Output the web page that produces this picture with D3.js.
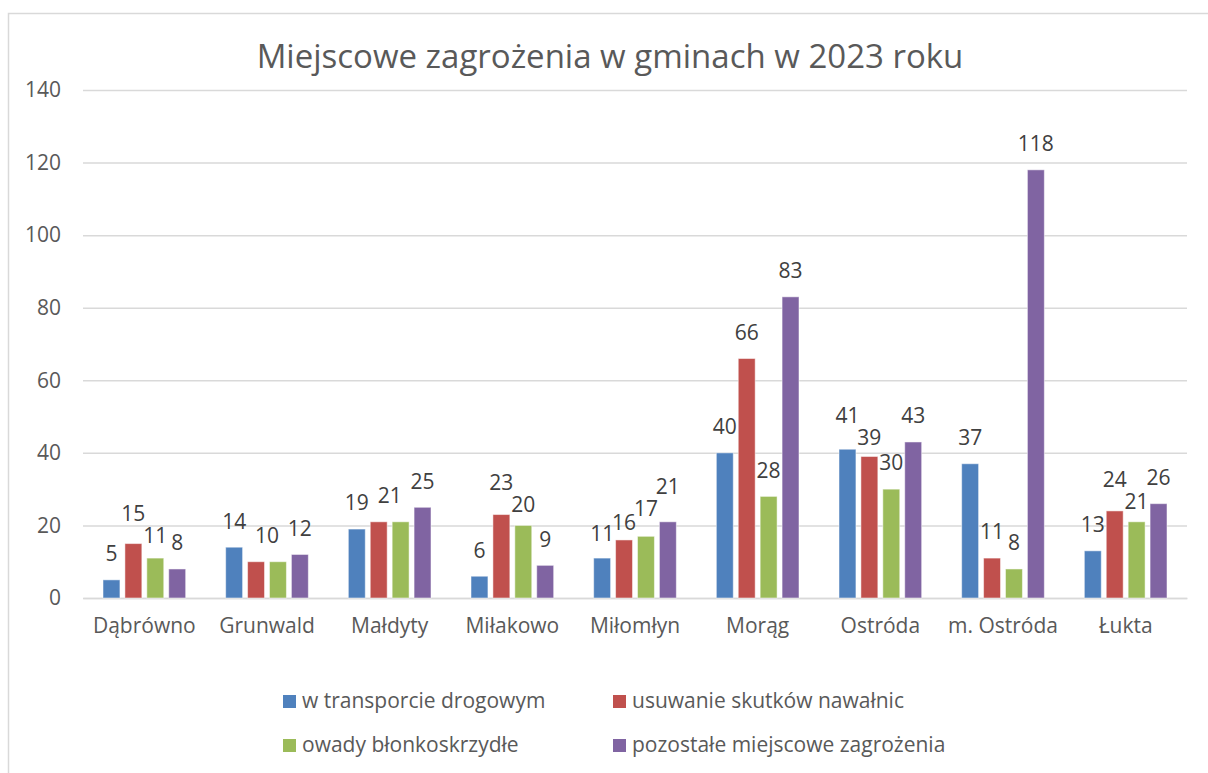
<!DOCTYPE html>
<html>
<head>
<meta charset="utf-8">
<script src="https://cdn.jsdelivr.net/npm/d3@7"></script>
<style>
  body { margin: 0; background: #fff; }
  svg { font-family: "Open Sans", "Liberation Sans", sans-serif; }
</style>
</head>
<body>
<div id="vis"></div>
<script>
// chart values
const CATEGORIES = ["Dąbrówno", "Grunwald", "Małdyty", "Miłakowo", "Miłomłyn",
                    "Morąg", "Ostróda", "m. Ostróda", "Łukta"];
const SERIES = ["w transporcie drogowym", "usuwanie skutków nawałnic",
                "owady błonkoskrzydłe", "pozostałe miejscowe zagrożenia"];
const TRANSPORT = [5, 14, 19, 6, 11, 40, 41, 37, 13];
const NAWALNICE = [15, 10, 21, 23, 16, 66, 39, 11, 24];
const OWADY = [11, 10, 21, 20, 17, 28, 30, 8, 21];
const POZOSTALE = [8, 12, 25, 9, 21, 83, 43, 118, 26];
const Y_TICKS = [0, 20, 40, 60, 80, 100, 120, 140];
const COLORS = ["#4F81BD", "#C0504D", "#9BBB59", "#8064A2"];

const FRAME_WIDTH = 1208;
const FRAME_HEIGHT = 773;
const PLOT = {left: 83, right: 1187, top: 90, bottom: 598};
const FONT_SIZE = 21;
const LABEL_H = 22;

const VALUES = [TRANSPORT, NAWALNICE, OWADY, POZOSTALE];

const FRAME = d3.select("#vis")
                .append("svg")
                    .attr("width", FRAME_WIDTH)
                    .attr("height", FRAME_HEIGHT);

// outer border of the chart area
FRAME.append("rect")
    .attr("x", 8.5)
    .attr("y", 13.5)
    .attr("width", FRAME_WIDTH)
    .attr("height", FRAME_HEIGHT)
    .attr("fill", "none")
    .attr("stroke", "#d9d9d9")
    .attr("stroke-width", 1.5);

// title
FRAME.append("text")
    .attr("x", 610)
    .attr("y", 68)
    .attr("text-anchor", "middle")
    .attr("font-size", "33px")
    .attr("fill", "#595959")
    .text("Miejscowe zagrożenia w gminach w 2023 roku");

// scales
const X_SCALE = d3.scaleBand()
                    .domain(CATEGORIES)
                    .range([PLOT.left, PLOT.right]);

const X_INNER = d3.scaleBand()
                    .domain(d3.range(SERIES.length))
                    .range([20, X_SCALE.bandwidth() - 20])
                    .paddingInner(0.227);

const Y_SCALE = d3.scaleLinear()
                    .domain([0, 140])
                    .range([PLOT.bottom, PLOT.top]);

// gridlines + y labels
const yAxis = FRAME.append("g")
    .attr("transform", "translate(" + PLOT.left + ",0)")
    .call(d3.axisLeft(Y_SCALE)
            .tickValues(Y_TICKS)
            .tickSize(-(PLOT.right - PLOT.left))
            .tickPadding(22));
yAxis.select(".domain").remove();
yAxis.selectAll("line").attr("stroke", "#d9d9d9").attr("stroke-width", 1.5);
yAxis.selectAll("text")
    .attr("font-size", FONT_SIZE + "px")
    .attr("fill", "#595959")
    .attr("font-family", "'Open Sans', sans-serif");

// x labels
const xAxis = FRAME.append("g")
    .attr("transform", "translate(0," + PLOT.bottom + ")")
    .call(d3.axisBottom(X_SCALE).tickSize(0).tickPadding(20));
xAxis.select(".domain").attr("stroke", "#d9d9d9").attr("stroke-width", 1.5);
xAxis.selectAll("text")
    .attr("font-size", FONT_SIZE + "px")
    .attr("fill", "#595959")
    .attr("font-family", "'Open Sans', sans-serif");

// bars
const points = [];
CATEGORIES.forEach((c, i) => {
    VALUES.forEach((vals, s) => {
        points.push({cat: c, s: s, v: vals[i]});
    });
});

FRAME.selectAll(".bar")
    .data(points)
    .enter()
    .append("rect")
        .attr("class", "bar")
        .attr("x", (d) => { return X_SCALE(d.cat) + X_INNER(d.s); })
        .attr("y", (d) => { return Y_SCALE(d.v); })
        .attr("width", X_INNER.bandwidth())
        .attr("height", (d) => { return PLOT.bottom - Y_SCALE(d.v); })
        .attr("fill", (d) => { return COLORS[d.s]; })
        .attr("stroke", "#ffffff")
        .attr("stroke-opacity", 0.5)
        .attr("stroke-width", 1);

// data labels: natural spot above the bar, equal neighbours share one label,
// overlapping neighbours are pushed apart vertically
const labels = [];
CATEGORIES.forEach((c, i) => {
    const group = [];
    VALUES.forEach((vals, s) => {
        const cx = X_SCALE(c) + X_INNER(s) + X_INNER.bandwidth() / 2;
        const cy = Y_SCALE(vals[i]) - 26;
        const prev = group[group.length - 1];
        if (prev && prev.v === vals[i] && prev.n === 1) {
            prev.x = (prev.x + cx) / 2;
            prev.n = 2;
        } else {
            group.push({v: vals[i], x: cx, y: cy, n: 1,
                        w: String(vals[i]).length * 12.5});
        }
    });
    for (let k = 1; k < group.length; k++) {
        const a = group[k - 1], b = group[k];
        const hOver = (a.w + b.w) / 2 + 2 - Math.abs(b.x - a.x);
        const dy = Math.abs(b.y - a.y);
        if (hOver > 0 && dy < LABEL_H) {
            const shift = (LABEL_H - dy) / 2;
            const upper = a.y <= b.y ? a : b;
            const lower = upper === a ? b : a;
            upper.y -= shift;
            lower.y += shift;
        }
    }
    group.forEach((g) => { labels.push(g); });
});

FRAME.selectAll(".lbl")
    .data(labels)
    .enter()
    .append("text")
        .attr("class", "lbl")
        .attr("x", (d) => { return d.x; })
        .attr("y", (d) => { return d.y; })
        .attr("dy", "0.35em")
        .attr("text-anchor", "middle")
        .attr("font-size", FONT_SIZE + "px")
        .attr("fill", "#404040")
        .text((d) => { return d.v; });

// legend
const LEGEND_POS = [[283, 701], [613, 701], [283, 745], [613, 745]];
const legend = FRAME.selectAll(".leg")
    .data(SERIES)
    .enter()
    .append("g")
        .attr("class", "leg")
        .attr("transform", (d, i) => {
            return "translate(" + LEGEND_POS[i][0] + "," + LEGEND_POS[i][1] + ")";
        });

legend.append("rect")
    .attr("x", 0)
    .attr("y", -6)
    .attr("width", 13)
    .attr("height", 13)
    .attr("fill", (d, i) => { return COLORS[i]; });

legend.append("text")
    .attr("x", 19)
    .attr("y", 0)
    .attr("dy", "0.35em")
    .attr("font-size", FONT_SIZE + "px")
    .attr("fill", "#595959")
    .text((d) => { return d; });
</script>
</body>
</html>
